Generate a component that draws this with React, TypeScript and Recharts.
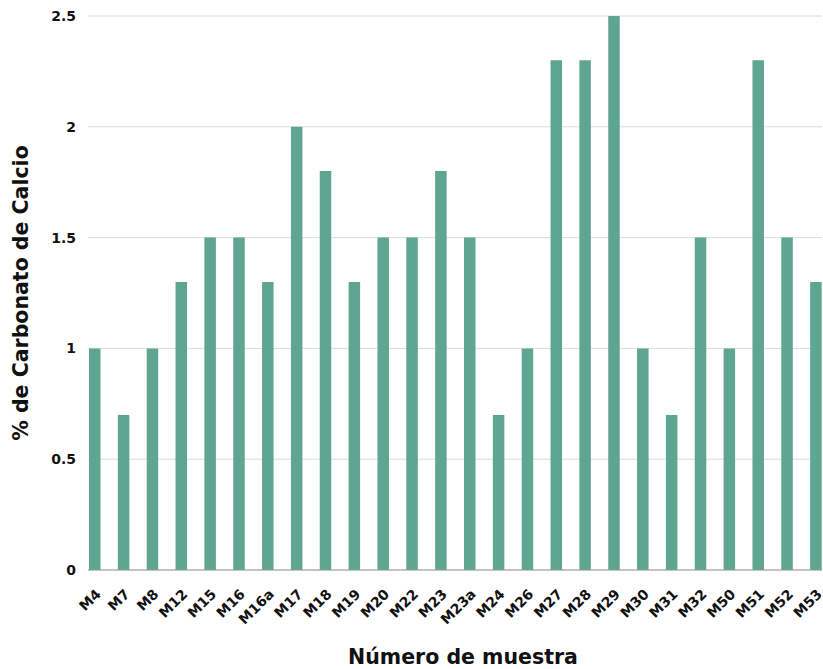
import { BarChart, Bar, XAxis, YAxis, CartesianGrid, Label, LabelList } from 'recharts';

const muestras = [
  'M4', 'M7', 'M8', 'M12', 'M15', 'M16', 'M16a', 'M17', 'M18', 'M19', 'M20', 'M22', 'M23',
  'M23a', 'M24', 'M26', 'M27', 'M28', 'M29', 'M30', 'M31', 'M32', 'M50', 'M51', 'M52', 'M53',
];
const carbonato = [
  1.0, 0.7, 1.0, 1.3, 1.5, 1.5, 1.3, 2.0, 1.8, 1.3, 1.5, 1.5, 1.8,
  1.5, 0.7, 1.0, 2.3, 2.3, 2.5, 1.0, 0.7, 1.5, 1.0, 2.3, 1.5, 1.3,
];
const yTicks = [0, 0.5, 1, 1.5, 2, 2.5];

const data = muestras.map((m, i) => ({ name: m, value: carbonato[i] }));

const FONT = '"DejaVu Sans", sans-serif';

export default function App() {
  return (
    <div style={{ position: 'absolute', left: 0, top: 0, width: 823, height: 669, overflow: 'hidden' }}>
      <BarChart
        width={823}
        height={669}
        data={data}
        margin={{ top: 16, right: 1, bottom: 0, left: 0 }}
        barSize={11.5}
      >
        <CartesianGrid vertical={false} stroke="#dcdcdc" />
        <XAxis
          dataKey="name"
          interval={0}
          tick={false}
          tickLine={false}
          axisLine={{ stroke: '#9a9a9a' }}
          padding={{ left: -8, right: -8 }}
          height={99}
        >
          <Label
            value="Número de muestra"
            position="insideBottom"
            offset={5}
            dx={8}
            style={{ fontFamily: FONT, fontWeight: 700, fontSize: 20.5, fill: '#111' }}
          />
        </XAxis>
        <YAxis
          domain={[0, 2.5]}
          ticks={yTicks}
          tickLine={false}
          axisLine={false}
          tickSize={0}
          tickMargin={12}
          width={88}
          tick={{ fontFamily: FONT, fontWeight: 700, fontSize: 14, fill: '#111' }}
        >
          <Label
            value="% de Carbonato de Calcio"
            angle={-90}
            position="insideLeft"
            offset={21}
            style={{ textAnchor: 'middle', fontFamily: FONT, fontWeight: 700, fontSize: 20.5, fill: '#111' }}
          />
        </YAxis>
        <Bar dataKey="value" fill="#5ea68f" isAnimationActive={false}>
          {/* category names drawn under each bar, tilted like the original */}
          <LabelList
            dataKey="name"
            position="bottom"
            offset={18}
            angle={-45}
            textAnchor="end"
            fontFamily={FONT}
            fontWeight={700}
            fontSize={14}
            fill="#111"
          />
        </Bar>
      </BarChart>
    </div>
  );
}
